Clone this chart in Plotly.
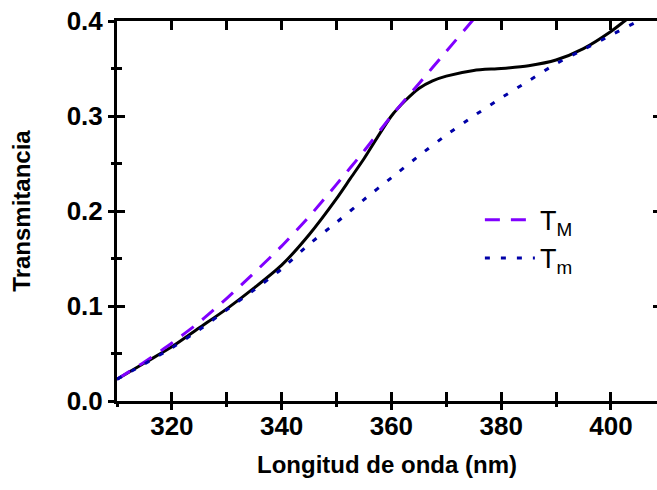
import plotly.graph_objects as go

# Black measured transmittance
wl_T = [310, 315, 320, 325, 330, 335, 340, 345, 350, 352.5, 355, 357.5, 360, 362.5,
        365, 367.5, 370, 375, 380, 385, 390, 395, 400, 402.5, 405, 408]
T_vals = [0.023, 0.040, 0.057, 0.077, 0.097, 0.119, 0.143, 0.175, 0.213, 0.234, 0.255,
          0.278, 0.300, 0.316, 0.329, 0.337, 0.342, 0.348, 0.350, 0.353, 0.359, 0.371,
          0.389, 0.400, 0.411, 0.424]

# Upper envelope T_M
wl_TM = [310, 315, 320, 325, 330, 335, 340, 345, 350, 355, 360, 365, 370, 375, 380]
TM_vals = [0.023, 0.041, 0.061, 0.083, 0.108, 0.135, 0.163, 0.194, 0.228, 0.263, 0.300,
           0.334, 0.368, 0.402, 0.436]

# Lower envelope T_m
wl_Tm = [310, 315, 320, 325, 330, 335, 340, 345, 350, 355, 360, 365, 370, 375, 380,
         385, 390, 395, 400, 405, 410]
Tm_vals = [0.023, 0.039, 0.056, 0.075, 0.096, 0.117, 0.139, 0.165, 0.188, 0.212, 0.235,
           0.258, 0.280, 0.300, 0.319, 0.337, 0.355, 0.370, 0.385, 0.400, 0.414]

x_range = [310, 408.4]
y_range = [0, 0.4]

FONT = "Liberation Sans, Arial, sans-serif"

fig = go.Figure()
fig.add_trace(go.Scatter(x=wl_T, y=T_vals, mode="lines", showlegend=False,
                         line=dict(color="black", width=3, shape="spline", smoothing=0.7)))
fig.add_trace(go.Scatter(x=wl_TM, y=TM_vals, mode="lines", name="T<sub>M</sub>",
                         legendgroup="a",
                         line=dict(color="#8000FF", width=3, dash="15px,11px",
                                   shape="spline", smoothing=0.6)))
fig.add_trace(go.Scatter(x=wl_Tm, y=Tm_vals, mode="lines", name="T<sub>m</sub>",
                         legendgroup="b",
                         line=dict(color="#0000A8", width=3, dash="5px,11px",
                                   shape="spline", smoothing=0.6)))
# empty traces so that the extra tick-only axes are drawn
fig.add_trace(go.Scatter(x=[], y=[], xaxis="x2", yaxis="y", showlegend=False, hoverinfo="skip"))
fig.add_trace(go.Scatter(x=[], y=[], xaxis="x", yaxis="y2", showlegend=False, hoverinfo="skip"))
fig.add_trace(go.Scatter(x=[], y=[], xaxis="x", yaxis="y3", showlegend=False, hoverinfo="skip"))

tickfont = dict(family=FONT, size=26, color="black", weight="bold")
common = dict(tickcolor="black", tickwidth=2.5, showgrid=False, zeroline=False)

fig.update_layout(
    width=657, height=490,
    margin=dict(l=117, r=0, t=21, b=89),
    paper_bgcolor="white", plot_bgcolor="white",
    showlegend=True,
    legend=dict(x=0.672, y=0.54, xanchor="left", yanchor="top",
                bgcolor="rgba(0,0,0,0)", font=dict(family=FONT, size=27, color="black"),
                tracegroupgap=0, itemwidth=50),
    xaxis=dict(range=x_range, showline=True, linewidth=3, linecolor="black",
               mirror="allticks", ticks="inside", ticklen=9,
               tick0=0, dtick=20,
               minor=dict(ticks="inside", ticklen=5, tickwidth=2.5, tickcolor="black",
                          dtick=10, showgrid=False),
               tickfont=tickfont,
               title=dict(text="Longitud de onda (nm)", standoff=16,
                          font=dict(family=FONT, size=24, color="black", weight="bold")),
               **common),
    xaxis2=dict(range=x_range, overlaying="x", anchor="y", side="bottom",
                showline=False, ticks="outside", ticklen=8,
                tick0=0, dtick=20, showticklabels=False,
                minor=dict(ticks="outside", ticklen=5, tickwidth=2.5, tickcolor="black",
                           dtick=10, showgrid=False),
                **common),
    yaxis=dict(range=y_range, showline=True, linewidth=3, linecolor="black",
               ticks="inside", ticklen=8, ticklabelstandoff=6,
               tick0=0, dtick=0.1, tickformat=".1f",
               minor=dict(ticks="inside", ticklen=5, tickwidth=2.5, tickcolor="black",
                          dtick=0.05, showgrid=False),
               tickfont=tickfont,
               title=dict(text="Transmitancia", standoff=30,
                          font=dict(family=FONT, size=24, color="black", weight="bold")),
               **common),
    yaxis2=dict(range=y_range, overlaying="y", anchor="x", side="left",
                showline=False, ticks="outside", ticklen=8,
                tick0=0, dtick=0.1, showticklabels=False,
                minor=dict(ticks="outside", ticklen=5, tickwidth=2.5, tickcolor="black",
                           dtick=0.05, showgrid=False),
                **common),
    yaxis3=dict(range=y_range, overlaying="y", anchor="x", side="right",
                showline=False, ticks="inside", ticklen=4,
                tick0=0, dtick=0.1, showticklabels=False,
                **common),
)

fig.write_html("out.html")
